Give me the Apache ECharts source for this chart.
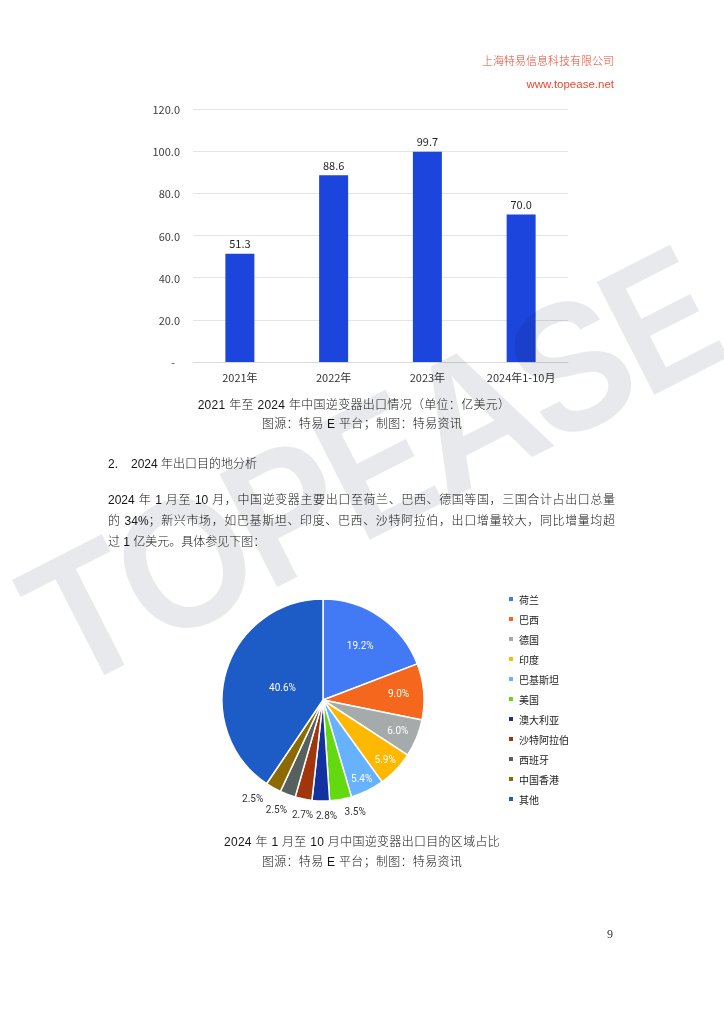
<!DOCTYPE html>
<html><head><meta charset="utf-8">
<script src="https://cdn.jsdelivr.net/npm/echarts@6/dist/echarts.min.js"></script>
<style>
html,body{margin:0;padding:0;background:#fff;}
#page{position:relative;width:724px;height:1024px;overflow:hidden;background:#fff;}
#chart{position:absolute;left:0;top:0;width:724px;height:1024px;}
.t{position:absolute;white-space:nowrap;font-family:"Liberation Sans","Noto Sans CJK SC",sans-serif;font-size:12px;font-weight:300;color:#151515;line-height:16px;}
.hdr{color:#E8492F;right:110px;text-align:right;font-size:11px;}
.cap{width:600px;text-align:center;letter-spacing:0.3px;}
.para{left:108px;width:507px;text-align:justify;text-align-last:justify;}
#wm{position:absolute;left:368px;top:470px;transform:translate(-50%,-50%) rotate(-27deg);font-family:Inter,"Liberation Sans",sans-serif;font-weight:600;font-size:174px;letter-spacing:-8px;line-height:1;color:#E8E9EC;mix-blend-mode:multiply;white-space:nowrap;pointer-events:none;}
</style>
</head><body>
<div id="page">
  <div id="chart"></div>
  <div class="t hdr" style="top:53px;">上海特易信息科技有限公司</div>
  <div class="t hdr" style="top:76px;font-size:11.5px;">www.topease.net</div>
  <div class="t cap" style="left:54px;top:397px;">2021 年至 2024 年中国逆变器出口情况（单位：亿美元）</div>
  <div class="t cap" style="left:62px;top:416px;">图源：特易 E 平台；制图：特易资讯</div>
  <div class="t" style="left:108px;top:456px;">2.</div>
  <div class="t" style="left:131px;top:456px;">2024 年出口目的地分析</div>
  <div class="t para" style="top:492px;">2024 年 1 月至 10 月，中国逆变器主要出口至荷兰、巴西、德国等国，三国合计占出口总量</div>
  <div class="t para" style="top:513px;">的 34%；新兴市场，如巴基斯坦、印度、巴西、沙特阿拉伯，出口增量较大，同比增量均超</div>
  <div class="t" style="left:108px;top:534px;">过 1 亿美元。具体参见下图：</div>
  <div class="t cap" style="left:62px;top:834px;">2024 年 1 月至 10 月中国逆变器出口目的区域占比</div>
  <div class="t cap" style="left:62px;top:854px;">图源：特易 E 平台；制图：特易资讯</div>
  <div class="t" style="left:607px;top:926px;font-family:'Liberation Serif',serif;color:#333;">9</div>
  <div id="wm">TOPEASE</div>
</div>
<script>
// ---- data ----
const years = ['2021年', '2022年', '2023年', '2024年1-10月'];
const exportValues = [51.3, 88.6, 99.7, 70.0];
const regions = ['荷兰', '巴西', '德国', '印度', '巴基斯坦', '美国', '澳大利亚', '沙特阿拉伯', '西班牙', '中国香港', '其他'];
const shares = [19.2, 9.0, 6.0, 5.9, 5.4, 3.5, 2.8, 2.7, 2.5, 2.5, 40.6];

// ---- styles / layout ----
const pieColors = ['#4279F4', '#F4671C', '#A5ABAA', '#FFB800', '#66B2FF', '#63D90F', '#1232A0', '#A1350C', '#56605F', '#8C6A00', '#1D5BC6'];
const PIE_CX = 323, PIE_CY = 700, PIE_R = 101;
// label placement: radius as fraction of pie radius, and angular nudge (degrees, clockwise)
const labelRadius = [0.65, 0.75, 0.8, 0.85, 0.87, 1.15, 1.14, 1.15, 1.18, 1.2, 0.42];
const labelNudge = [0, 0, 0, 0, 0, -6, -3, -1, 2.5, 6, 0];

const chart = echarts.init(document.getElementById('chart'), null, {renderer: 'svg'});
chart.setOption({
  animation: false,
  color: pieColors,
  textStyle: {fontFamily: '"Noto Sans CJK SC", sans-serif'},
  grid: {left: 193, right: 156, top: 109, bottom: 662, containLabel: false},
  xAxis: {
    type: 'category', data: years,
    axisLine: {lineStyle: {color: '#D9D9D9'}},
    axisTick: {show: false},
    axisLabel: {color: '#333', fontSize: 11, margin: 9}
  },
  yAxis: {
    type: 'value', min: 0, max: 120, interval: 20,
    axisLine: {show: false}, axisTick: {show: false},
    splitLine: {lineStyle: {color: '#E4E4E4'}},
    axisLabel: {color: '#404040', fontSize: 11, margin: 13,
      formatter: v => v === 0 ? '-  ' : v.toFixed(1)}
  },
  legend: {
    orient: 'vertical', left: 502, top: 588, itemWidth: 6, itemHeight: 6, itemGap: 8,
    icon: 'rect', data: regions,
    textStyle: {fontSize: 10, color: '#222', lineHeight: 12}
  },
  series: [
    {
      type: 'bar', data: exportValues, barWidth: 29,
      itemStyle: {color: '#1B45DC'},
      label: {show: true, position: 'top', distance: 5, color: '#262626', fontSize: 11,
        formatter: p => p.value.toFixed(1)}
    },
    {
      type: 'pie', center: [PIE_CX, PIE_CY], radius: [0, PIE_R], startAngle: 90,
      avoidLabelOverlap: false,
      data: regions.map((n, i) => ({
        name: n, value: shares[i],
        label: {color: labelRadius[i] > 1 ? '#333' : '#fff'}
      })),
      itemStyle: {borderColor: '#fff', borderWidth: 1.5},
      label: {show: true, position: 'inside', fontSize: 10, fontFamily: 'Roboto, sans-serif',
        formatter: p => p.value.toFixed(1) + '%'},
      labelLine: {show: false},
      labelLayout: function (p) {
        const r = p.labelRect;
        const x = r.x + r.width / 2, y = r.y + r.height / 2;
        const a = Math.atan2(y - PIE_CY, x - PIE_CX) + labelNudge[p.dataIndex] * Math.PI / 180;
        const d = labelRadius[p.dataIndex] * PIE_R;
        return {dx: PIE_CX + d * Math.cos(a) - x, dy: PIE_CY + d * Math.sin(a) - y};
      }
    }
  ]
});
</script>
</body></html>
